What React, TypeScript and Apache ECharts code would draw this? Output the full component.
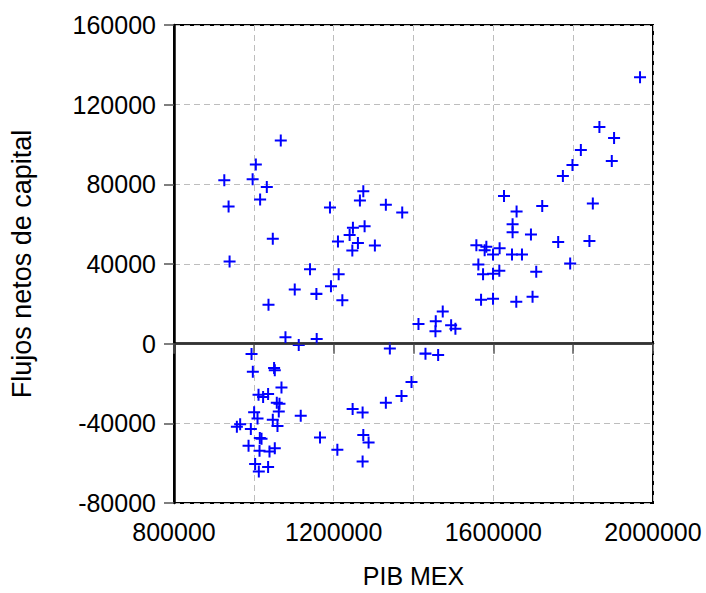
import React, { useEffect, useRef } from "react";
import * as echarts from "echarts";

const pibMex: number[] = [
  1067500, 1005000, 926000, 997000, 1032500, 1015750, 936750, 1047500, 939250,
  1274250, 1265750, 1190750, 1330750, 1371750, 1248250, 1277500, 1240000, 1210750,
  1260750, 1303250, 1246750, 1140750, 1212500, 1102500, 1156750, 1193250, 1221750,
  1036750, 1079250, 1157500, 1112500, 1340750,
  1967500, 1865750, 1902500, 1819250, 1798250, 1896750, 1774250, 1626750, 1658250,
  1722500, 1849250, 1648250, 1648250, 1694250, 1762500, 1840750, 1557500, 1582500,
  1578250, 1615750, 1599250, 1646750, 1671750, 1562500, 1574250, 1599250, 1615000,
  1707500, 1792500, 1569250, 1599250, 1657500, 1698250, 1473250, 1412500, 1455750,
  1455000, 1494250, 1505000, 1430000, 1461750, 1395000, 1370000, 1330750,
  994250, 997500, 1050750, 1052500, 1069250, 1011750, 1023250, 1035750, 1057500,
  1064250, 1062500, 1000750, 1009250, 1047500, 1059250, 1117500, 1247500, 1272500,
  957500, 965750, 992500, 1015000, 1019250, 1165750, 1274250, 1287500, 986750,
  1014250, 1039250, 1052500, 1209250, 1003250, 1035750, 1012500, 1272500,
];

const flujosCapital: number[] = [
  102000, 90000, 82000, 82500, 78600, 72400, 68900, 52700, 41300,
  76500, 71900, 68400, 69800, 65900, 58200, 59000, 54500, 51300,
  50600, 49300, 46800, 37400, 34900, 27200, 25000, 28800, 21800,
  19500, 3200, 2400, -650, -2400,
  133800, 108800, 103300, 97200, 89700, 91700, 84200, 74100, 66400,
  69100, 70400, 59900, 56000, 54800, 51000, 51500, 49400, 48600,
  46900, 47900, 44800, 44800, 44800, 39700, 34900, 35100, 36600,
  36100, 40200, 22100, 22600, 21000, 23500, 16100, 9900, 11200,
  6200, 9200, 7500, -5000, -5700, -19300, -26300, -29700,
  -5200, -14100, -12200, -13400, -22000, -25700, -26800, -25300, -29700,
  -30200, -34100, -34400, -37600, -38200, -41400, -36200, -32800, -34600,
  -41700, -40400, -42800, -47400, -47800, -47100, -45900, -49600, -51300,
  -53800, -54200, -52500, -53300, -60400, -61900, -64200, -59200,
];

const xAxisName = "PIB MEX";
const yAxisName = "Flujos netos de capital";

export default function App() {
  const ref = useRef<HTMLDivElement>(null);
  useEffect(() => {
    document.body.style.margin = "0";
    if (!ref.current) return;
    const chart = echarts.init(ref.current, undefined, { renderer: "svg" });
    const font = "'Liberation Sans', Arial, Helvetica, sans-serif";
    const data = pibMex.map((x, i) => [x, flujosCapital[i]]);
    chart.setOption({
      animation: false,
      backgroundColor: "#ffffff",
      grid: {
        left: 173,
        right: 53,
        top: 25,
        bottom: 90,
        show: true,
        borderColor: "#000",
        borderWidth: 2,
        backgroundColor: "transparent",
      },
      xAxis: {
        type: "value",
        min: 800000,
        max: 2000000,
        interval: 200000,
        name: xAxisName,
        nameLocation: "middle",
        nameGap: 60,
        nameTextStyle: { fontFamily: font, fontSize: 25, color: "#000" },
        axisLine: { show: true, lineStyle: { color: "#000", width: 2.5 } },
        axisTick: { show: true, inside: false, length: 10, lineStyle: { color: "#555", width: 1.5 } },
        axisLabel: {
          margin: 16,
          fontFamily: font,
          fontSize: 25,
          color: "#000",
          formatter: (v: number) => (v % 400000 === 0 ? String(v) : ""),
        },
        splitLine: { show: true, lineStyle: { color: "#bdbdbd", type: [6, 4], width: 1 } },
      },
      yAxis: {
        type: "value",
        min: -80000,
        max: 160000,
        interval: 40000,
        name: yAxisName,
        nameLocation: "middle",
        nameGap: 139,
        nameRotate: 90,
        nameTextStyle: { fontFamily: font, fontSize: 27, color: "#000" },
        axisLine: { show: true, onZero: false, lineStyle: { color: "#000", width: 2.5 } },
        axisTick: { show: true, inside: false, length: 10, lineStyle: { color: "#555", width: 1.5 } },
        axisLabel: {
          margin: 18,
          fontFamily: font,
          fontSize: 25,
          color: "#000",
          formatter: (v: number) => String(v),
        },
        splitLine: { show: true, lineStyle: { color: "#bdbdbd", type: [6, 4], width: 1 } },
      },
      series: [
        {
          type: "scatter",
          data,
          symbol: "path://M5,0h2v5h5v2h-5v5h-2v-5h-5v-2h5z",
          symbolSize: 12,
          itemStyle: { color: "#0000ff", opacity: 1 },
          markLine: {
            silent: true,
            symbol: "none",
            label: { show: false },
            lineStyle: { color: "#444", type: "solid", width: 1.5 },
            data: [{ yAxis: 0 }],
          },
        },
      ],
    });
    return () => chart.dispose();
  }, []);
  return <div ref={ref} style={{ width: 706, height: 593 }} />;
}
